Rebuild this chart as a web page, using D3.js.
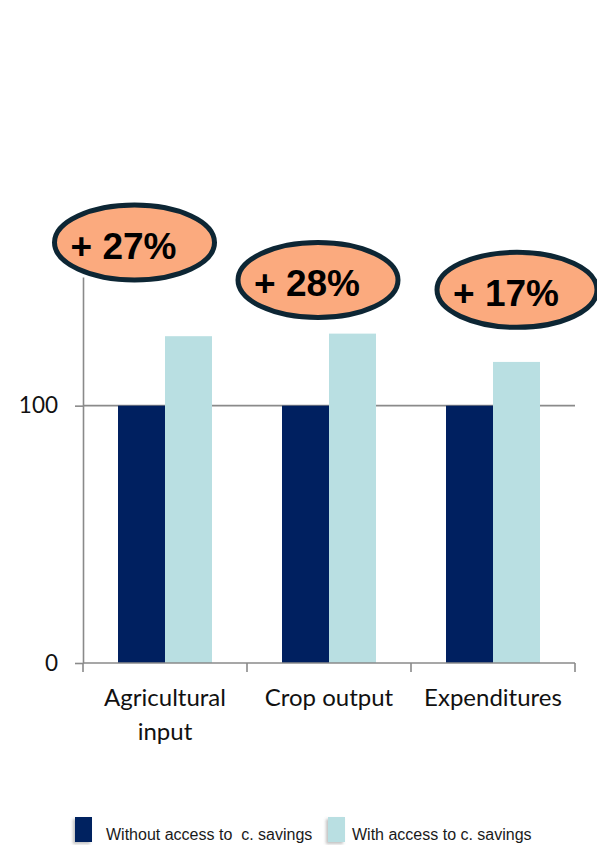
<!DOCTYPE html>
<html>
<head>
<meta charset="utf-8">
<script src="https://cdn.jsdelivr.net/npm/d3@7"></script>
<style>
  html, body { margin: 0; padding: 0; background: #ffffff; }
  svg { display: block; }
</style>
</head>
<body>
<svg id="chart" width="597" height="845"></svg>
<script>
// Index values (without access = 100)
const categories = ["Agricultural input", "Crop output", "Expenditures"];
const seriesNames = ["Without access to  c. savings", "With access to c. savings"];
const withoutAccess = [100, 100, 100];
const withAccess = [127, 128, 117];
const yTicks = [0, 100];

// Callout placement: horizontal shift from the category centre (px) and height in axis units
const calloutDx = [-30.5, -11, 24];
const calloutLevel = [163.4, 148.8, 145];

const colors = { without: "#002060", with: "#B9DFE2", grid: "#8A8A8A",
                 calloutFill: "#FBAA7E", calloutStroke: "#0D2634" };

const svg = d3.select("#chart");
const plot = { left: 83, right: 575, top: 277, bottom: 663 };

const x = d3.scaleBand().domain(categories).range([plot.left, plot.right]).padding(0);
const sub = d3.scaleBand().domain(["without", "with"])
  .range([0, x.bandwidth()]).paddingInner(0).paddingOuter(0.745);
const y = d3.scaleLinear().domain([0, 150]).range([plot.bottom, plot.top]);

const rows = categories.map((c, i) => ({
  category: c, without: withoutAccess[i], with: withAccess[i],
  dx: calloutDx[i], level: calloutLevel[i]
}));

// Gridline at 100
svg.append("g").selectAll("line").data(yTicks.filter(t => t > 0)).join("line")
  .attr("x1", plot.left).attr("x2", plot.right)
  .attr("y1", d => y(d)).attr("y2", d => y(d))
  .attr("stroke", colors.grid).attr("stroke-width", 1.6);

// Bars
const groups = svg.append("g").selectAll("g").data(rows).join("g")
  .attr("transform", d => `translate(${x(d.category)},0)`);
groups.selectAll("rect").data(d => [
    { key: "without", v: d.without }, { key: "with", v: d.with }
  ]).join("rect")
  .attr("x", d => sub(d.key)).attr("width", sub.bandwidth())
  .attr("y", d => y(d.v)).attr("height", d => y(0) - y(d.v))
  .attr("fill", d => colors[d.key]);

// Y axis
const yAxis = svg.append("g").attr("transform", `translate(${plot.left},0)`)
  .call(d3.axisLeft(y).tickValues(yTicks).tickSize(8).tickPadding(17).tickSizeOuter(0));
yAxis.select(".domain").attr("stroke", colors.grid).attr("stroke-width", 1.6);
yAxis.selectAll(".tick line").attr("stroke", colors.grid).attr("stroke-width", 1.6);
yAxis.selectAll(".tick text").attr("font-family", "Lato, sans-serif")
  .attr("font-size", 22.5).attr("fill", "#111");

// X axis: baseline with boundary ticks
const boundaries = categories.map(c => x(c)).concat([plot.right]);
svg.append("line").attr("x1", plot.left).attr("x2", plot.right)
  .attr("y1", y(0)).attr("y2", y(0))
  .attr("stroke", colors.grid).attr("stroke-width", 1.6);
svg.append("g").selectAll("line").data(boundaries).join("line")
  .attr("x1", d => d).attr("x2", d => d)
  .attr("y1", y(0)).attr("y2", y(0) + 9)
  .attr("stroke", colors.grid).attr("stroke-width", 1.6);

// Category labels, wrapped to the band width
const catLabels = svg.append("g").selectAll("text").data(categories).join("text")
  .attr("x", d => x(d) + x.bandwidth() / 2)
  .attr("y", y(0) + 43)
  .attr("text-anchor", "middle")
  .attr("font-family", "Lato, sans-serif").attr("font-size", 24).attr("fill", "#111");
catLabels.each(function(d) {
  const el = d3.select(this);
  const words = d.split(" ");
  const lines = [];
  let line = [];
  const probe = el.append("tspan");
  words.forEach(w => {
    const trial = line.concat([w]).join(" ");
    probe.text(trial);
    if (probe.node().getComputedTextLength() > x.bandwidth() - 6 && line.length) {
      lines.push(line.join(" "));
      line = [w];
    } else line.push(w);
  });
  lines.push(line.join(" "));
  probe.remove();
  lines.forEach((t, i) => {
    el.append("tspan").attr("x", x(d) + x.bandwidth() / 2)
      .attr("dy", i === 0 ? 0 : 34).text(t);
  });
});

// Percentage callouts
const callouts = svg.append("g").selectAll("g").data(rows).join("g")
  .attr("transform", d => `translate(${x(d.category) + x.bandwidth() / 2 + d.dx},${y(d.level)})`);
callouts.append("ellipse")
  .attr("rx", 80).attr("ry", 37.5)
  .attr("fill", colors.calloutFill)
  .attr("stroke", colors.calloutStroke).attr("stroke-width", 5);
callouts.append("text")
  .attr("x", -64).attr("y", 16)
  .attr("font-family", "'Liberation Sans', Arial, sans-serif")
  .attr("font-weight", "bold").attr("font-size", 37).attr("fill", "#000")
  .text(d => `+ ${Math.round(d.with - d.without)}%`);

// Legend
const defs = svg.append("defs");
defs.append("filter").attr("id", "swatchShadow")
  .attr("x", "-50%").attr("y", "-50%").attr("width", "200%").attr("height", "200%")
  .append("feDropShadow").attr("dx", -2).attr("dy", 2).attr("stdDeviation", 1.5)
  .attr("flood-color", "#777").attr("flood-opacity", 0.45);

const legendItems = [
  { key: "without", label: seriesNames[0], x: 75 },
  { key: "with", label: seriesNames[1], x: 328 }
];
const legend = svg.append("g").selectAll("g").data(legendItems).join("g")
  .attr("transform", d => `translate(${d.x},817)`);
legend.append("rect").attr("width", 17).attr("height", 25)
  .attr("fill", d => colors[d.key]).attr("filter", "url(#swatchShadow)");
legend.append("text").attr("x", d => d.key === "without" ? 31 : 24).attr("y", 23)
  .attr("font-family", "'Liberation Sans', Arial, sans-serif")
  .attr("font-size", 16).attr("fill", "#1a1a1a")
  .style("white-space", "pre")
  .text(d => d.label);
</script>
</body>
</html>
